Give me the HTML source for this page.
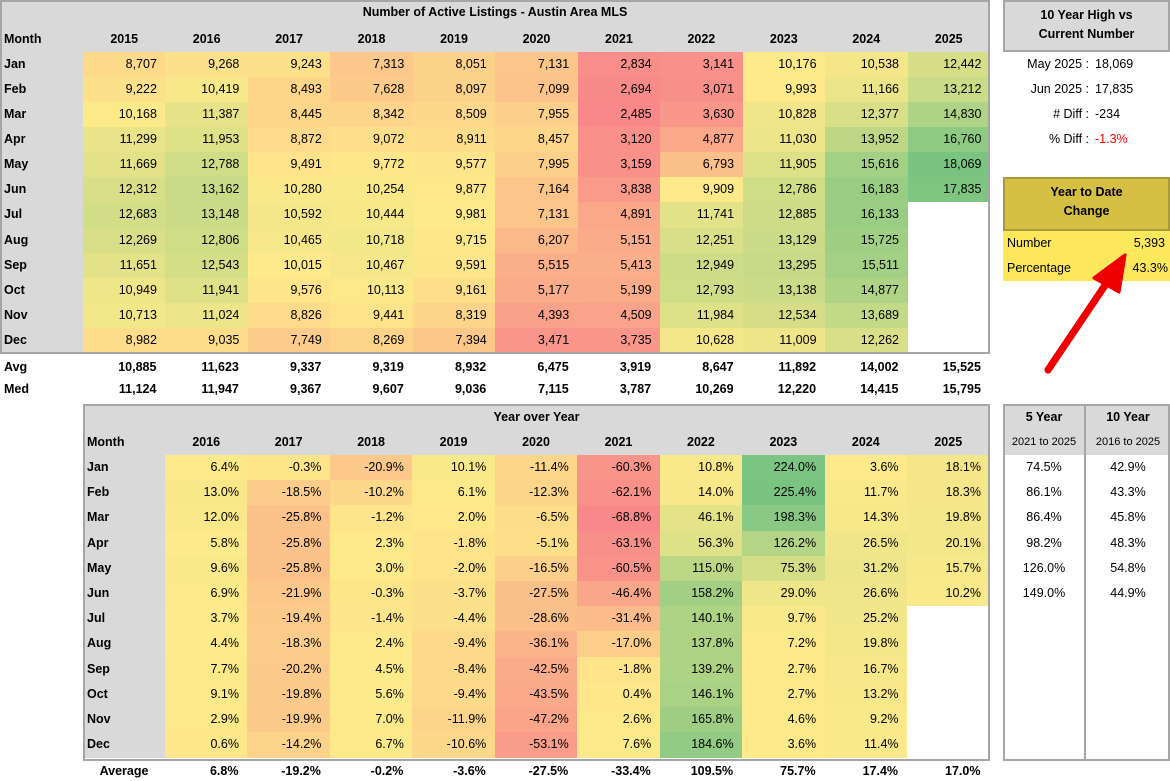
<!DOCTYPE html>
<html><head><meta charset="utf-8">
<style>
body{margin:0;width:1170px;height:779px;background:#fff;font-family:"Liberation Sans",Arial,sans-serif;font-size:12.5px;color:#000;position:relative;overflow:hidden}
.c{position:absolute;box-sizing:border-box;white-space:nowrap;line-height:25px}
.b{font-weight:bold}
.box{position:absolute;box-sizing:border-box;border:2px solid #a6a6a6}
</style></head><body>
<div id="root"></div>
<svg style="position:absolute;left:0;top:0" width="1170" height="779">
<line x1="1048" y1="370" x2="1112" y2="275" stroke="#e00" stroke-width="7" stroke-linecap="round"/>
<polygon points="1125,255 1094,278 1119,292" fill="#e00" stroke="#e00" stroke-width="3" stroke-linejoin="round"/>
</svg>
<script>
(function(){
const R=document.getElementById('root');
function cell(x,y,w,h,t,o){o=o||{};const d=document.createElement('div');d.className='c'+(o.b?' b':'');
d.style.cssText='left:'+x+'px;top:'+y+'px;width:'+w+'px;height:'+h+'px;line-height:'+h+'px;text-align:'+(o.a||'right')+';padding:0 '+(o.p==null?9:o.p)+'px;'+(o.bg?'background:'+o.bg+';':'')+(o.s||'');
d.innerHTML=t;R.appendChild(d);return d;}
function lerp(a,b,t){return a.map(function(v,i){return Math.round(v+(b[i]-v)*t);});}
const RED=[248,136,138],YEL=[254,234,138],GRN=[122,196,130];
function scale(vals){const s=vals.slice().sort(function(a,b){return a-b;});const mn=s[0],mx=s[s.length-1];
const n=s.length;const mid=n%2?s[(n-1)/2]:(s[n/2-1]+s[n/2])/2;
return function(v){let c;if(v<=mid)c=lerp(RED,YEL,(v-mn)/(mid-mn));else c=lerp(YEL,GRN,(v-mid)/(mx-mid));return 'rgb('+c.join(',')+')';};}
const M=['Jan','Feb','Mar','Apr','May','Jun','Jul','Aug','Sep','Oct','Nov','Dec'];
const topData=[
[8707,9268,9243,7313,8051,7131,2834,3141,10176,10538,12442],
[9222,10419,8493,7628,8097,7099,2694,3071,9993,11166,13212],
[10168,11387,8445,8342,8509,7955,2485,3630,10828,12377,14830],
[11299,11953,8872,9072,8911,8457,3120,4877,11030,13952,16760],
[11669,12788,9491,9772,9577,7995,3159,6793,11905,15616,18069],
[12312,13162,10280,10254,9877,7164,3838,9909,12786,16183,17835],
[12683,13148,10592,10444,9981,7131,4891,11741,12885,16133,null],
[12269,12806,10465,10718,9715,6207,5151,12251,13129,15725,null],
[11651,12543,10015,10467,9591,5515,5413,12949,13295,15511,null],
[10949,11941,9576,10113,9161,5177,5199,12793,13138,14877,null],
[10713,11024,8826,9441,8319,4393,4509,11984,12534,13689,null],
[8982,9035,7749,8269,7394,3471,3735,10628,11009,12262,null]];
function fmt(v){return String(v).replace(/\B(?=(\d{3})+(?!\d))/g,',');}
const cw=82.45,x0=83;
cell(0,0,990,52,'',{bg:'#d9d9d9'});
cell(0,0,990,25,'Number of Active Listings - Austin Area MLS',{a:'center',b:1});
cell(0,27,83,25,'Month',{a:'left',b:1,p:4});
for(let j=0;j<11;j++)cell(x0+j*cw,27,cw,25,String(2015+j),{a:'center',b:1});
let all=[];topData.forEach(function(r){r.forEach(function(v){if(v!=null)all.push(v);});});const sc1=scale(all);
const rh=25.08;
for(let i=0;i<12;i++){const y=52+i*rh;cell(0,y,83,rh+0.5,M[i],{a:'left',b:1,p:4,bg:'#d9d9d9'});
for(let j=0;j<11;j++){const v=topData[i][j];cell(x0+j*cw,y,cw+0.5,rh+0.5,v==null?'':fmt(v),{bg:v==null?'#fff':sc1(v)});}}
const box1=document.createElement('div');box1.className='box';box1.style.cssText='left:0;top:0;width:990px;height:354px';R.appendChild(box1);
const avg=[10885,11623,9337,9319,8932,6475,3919,8647,11892,14002,15525],med=[11124,11947,9367,9607,9036,7115,3787,10269,12220,14415,15795];
cell(0,356,83,22,'Avg',{a:'left',b:1,p:4});cell(0,378,83,22,'Med',{a:'left',b:1,p:4});
for(let j=0;j<11;j++){cell(x0+j*cw,356,cw,22,fmt(avg[j]),{b:1});cell(x0+j*cw,378,cw,22,fmt(med[j]),{b:1});}
const yoy=[
[6.4,-0.3,-20.9,10.1,-11.4,-60.3,10.8,224.0,3.6,18.1],
[13.0,-18.5,-10.2,6.1,-12.3,-62.1,14.0,225.4,11.7,18.3],
[12.0,-25.8,-1.2,2.0,-6.5,-68.8,46.1,198.3,14.3,19.8],
[5.8,-25.8,2.3,-1.8,-5.1,-63.1,56.3,126.2,26.5,20.1],
[9.6,-25.8,3.0,-2.0,-16.5,-60.5,115.0,75.3,31.2,15.7],
[6.9,-21.9,-0.3,-3.7,-27.5,-46.4,158.2,29.0,26.6,10.2],
[3.7,-19.4,-1.4,-4.4,-28.6,-31.4,140.1,9.7,25.2,null],
[4.4,-18.3,2.4,-9.4,-36.1,-17.0,137.8,7.2,19.8,null],
[7.7,-20.2,4.5,-8.4,-42.5,-1.8,139.2,2.7,16.7,null],
[9.1,-19.8,5.6,-9.4,-43.5,0.4,146.1,2.7,13.2,null],
[2.9,-19.9,7.0,-11.9,-47.2,2.6,165.8,4.6,9.2,null],
[0.6,-14.2,6.7,-10.6,-53.1,7.6,184.6,3.6,11.4,null]];
const bx=165;
cell(83,404,907,51,'',{bg:'#d9d9d9'});
cell(83,404,907,26,'Year over Year',{a:'center',b:1});
cell(83,430,82,25,'Month',{a:'left',b:1,p:4});
for(let j=0;j<10;j++)cell(bx+j*cw,430,cw,25,String(2016+j),{a:'center',b:1});
let all2=[];yoy.forEach(function(r){r.forEach(function(v){if(v!=null)all2.push(v);});});const sc2=scale(all2);
const rh2=25.2;
for(let i=0;i<12;i++){const y=455+i*rh2;cell(83,y,82,rh2+0.5,M[i],{a:'left',b:1,p:4,bg:'#d9d9d9'});
for(let j=0;j<10;j++){const v=yoy[i][j];cell(bx+j*cw,y,cw+0.5,rh2+0.5,v==null?'':v.toFixed(1)+'%',{bg:v==null?'#fff':sc2(v)});}}
const box2=document.createElement('div');box2.className='box';box2.style.cssText='left:83px;top:404px;width:907px;height:357px';R.appendChild(box2);
const av2=[6.8,-19.2,-0.2,-3.6,-27.5,-33.4,109.5,75.7,17.4,17.0];
cell(83,761,82,20,'Average',{a:'center',b:1});
for(let j=0;j<10;j++)cell(bx+j*cw,761,cw,20,av2[j].toFixed(1)+'%',{b:1});
cell(1003,0,167,50,'',{bg:'#d9d9d9'});
const b3=document.createElement('div');b3.className='box';b3.style.cssText='left:1003px;top:0;width:167px;height:52px';R.appendChild(b3);
cell(1003,6,167,18,'10 Year High vs',{a:'center',b:1});cell(1003,25,167,18,'Current Number',{a:'center',b:1});
const rr=[['May 2025 :','18,069'],['Jun 2025 :','17,835'],['# Diff :','-234'],['% Diff :','<span style="color:#f00">-1.3%</span>']];
rr.forEach(function(r,i){cell(1003,52+i*25,86,25,r[0],{p:0});cell(1095,52+i*25,70,25,r[1],{a:'left',p:0});});
cell(1003,177,167,53,'',{bg:'#d6c043'});
const b4=document.createElement('div');b4.className='box';b4.style.cssText='left:1003px;top:177px;width:167px;height:54px;border-color:#a89a3a';R.appendChild(b4);
cell(1003,183,167,18,'Year to Date',{a:'center',b:1});cell(1003,202,167,18,'Change',{a:'center',b:1});
cell(1003,231,167,50,'',{bg:'#fde85c'});
cell(1003,231,80,25,'Number',{a:'left',p:4});cell(1083,231,87,25,'5,393',{p:5});
cell(1003,256,80,25,'Percentage',{a:'left',p:4});cell(1083,256,87,25,'43.3%',{p:2});
cell(1003,404,167,51,'',{bg:'#d9d9d9'});
const b5=document.createElement('div');b5.className='box';b5.style.cssText='left:1003px;top:404px;width:167px;height:357px';R.appendChild(b5);
const vl=document.createElement('div');vl.style.cssText='position:absolute;left:1084px;top:404px;width:2px;height:357px;background:#a6a6a6';R.appendChild(vl);
cell(1003,406,82,22,'5 Year',{a:'center',b:1,p:0});cell(1086,406,84,22,'10 Year',{a:'center',b:1,p:0});
cell(1003,431,82,22,'2021 to 2025',{a:'center',p:0,s:'font-size:11px'});cell(1086,431,84,22,'2016 to 2025',{a:'center',p:0,s:'font-size:11px'});
const f5=['74.5%','86.1%','86.4%','98.2%','126.0%','149.0%'],t10=['42.9%','43.3%','45.8%','48.3%','54.8%','44.9%'];
for(let i=0;i<6;i++){cell(1003,455+i*rh2,82,rh2,f5[i],{a:'center',p:0});cell(1086,455+i*rh2,84,rh2,t10[i],{a:'center',p:0});}
})();
</script>
<svg style="position:absolute;left:0;top:0" width="1170" height="779">
<line x1="1048" y1="370" x2="1112" y2="275" stroke="#e00" stroke-width="7" stroke-linecap="round"/>
<polygon points="1125,255 1094,278 1119,292" fill="#e00" stroke="#e00" stroke-width="3" stroke-linejoin="round"/>
</svg>
</body></html>
